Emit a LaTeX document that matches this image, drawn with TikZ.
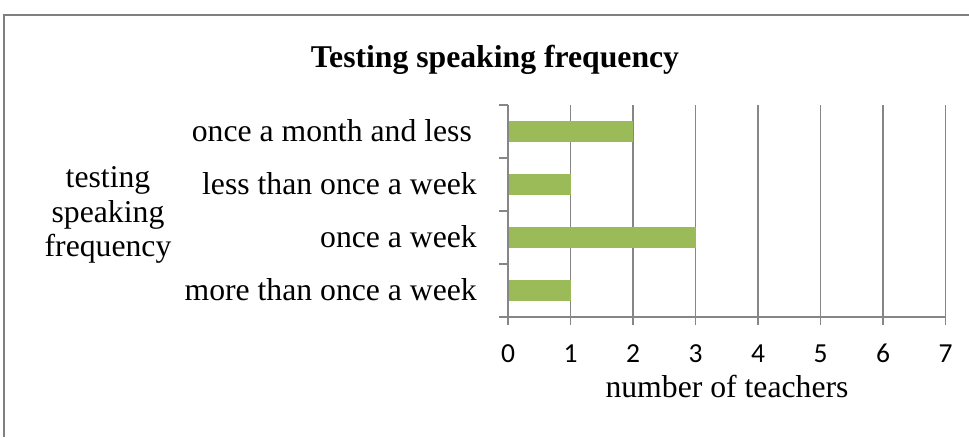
\documentclass[tikz,border=0pt]{standalone}
\usepackage{fontspec}
\setmainfont{Liberation Serif}
\newfontfamily\calfont{Carlito}
\definecolor{gridgray}{RGB}{134,134,134}
\definecolor{framegray}{RGB}{128,128,128}
\definecolor{bargreen}{RGB}{155,187,89}
\begin{document}
\begin{tikzpicture}[x=1pt,y=-1pt,
  gridline/.style={draw=gridgray, line width=1.8pt},
  barbox/.style={fill=bargreen, draw=none},
  catlabel/.style={anchor=base east, font=\fontsize{31.7}{34}\selectfont, inner sep=0pt},
  ticklabel/.style={anchor=base, font=\calfont\fontsize{27.5}{29}\selectfont, inner sep=0pt},
  titlelabel/.style={anchor=base, font=\bfseries\fontsize{31.7}{34}\selectfont, inner sep=0pt},
  axislabel/.style={font=\fontsize{31.7}{34.5}\selectfont, inner sep=0pt, align=center}]
\useasboundingbox (0,0) rectangle (969,437);
\fill[white] (0,0) rectangle (969,437);
% outer frame
\draw[framegray, line width=1.2pt] (4,437) -- (4,15) -- (969,15);
% title
\node[titlelabel] (title) at (495,67) {Testing speaking frequency};
% vertical gridlines and value ticks
\foreach \i in {0,...,7} {
  \draw[gridline] ({508+62.5*\i},105) -- ({508+62.5*\i},325);
  \node[ticklabel] (t\i) at ({508+62.5*\i},362) {\i};
}
% horizontal axis
\draw[gridline] (499,317.3) -- (946,317.3);
% category ticks
\foreach \k in {0,...,4} {
  \draw[gridline] (499,{105+53.08*\k}) -- (508,{105+53.08*\k});
}
% bars
\foreach \v [count=\k from 0] in {2,1,3,1} {
  \fill[barbox] (509,{131.6+53.08*\k-10.6}) rectangle ({508+62.5*\v},{131.6+53.08*\k+10.6});
}
% category labels
\node[catlabel] (c1) at (472,141) {once a month and less};
\node[catlabel] (c2) at (477,194) {less than once a week};
\node[catlabel] (c3) at (477,247) {once a week};
\node[catlabel] (c4) at (477,300) {more than once a week};
% axis titles
\node[axislabel] (ytitle) at (108,215) {testing\\speaking\\frequency};
\node[titlelabel, font=\fontsize{31.7}{34}\selectfont] (xtitle) at (727,397) {number of teachers};
\end{tikzpicture}
\end{document}
